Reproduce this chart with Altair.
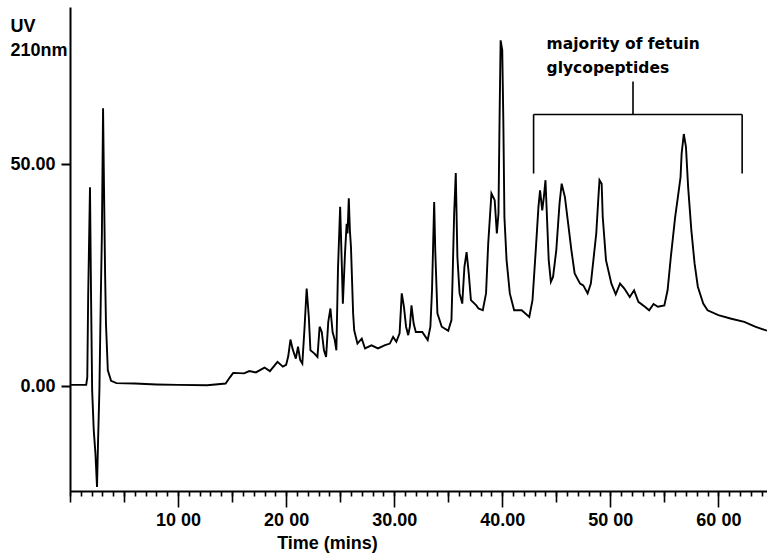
import altair as alt
import pandas as pd

# Chromatogram trace: retention time (min) and UV 210 nm response
time_min = [0.1, 1.5, 1.6, 1.68, 1.85, 1.95, 2.05, 2.2, 2.35, 2.5, 2.6, 2.72, 2.85, 2.95, 3.06,
            3.15, 3.25, 3.33, 3.5, 3.8, 4.3, 6.0, 8.0, 10.0, 12.7, 14.4, 14.8, 15.1, 16.1, 16.6,
            17.2, 18.0, 18.5, 19.2, 19.7, 20.0, 20.2, 20.4, 20.6, 20.9, 21.1, 21.3, 21.5, 21.7,
            21.9, 22.1, 22.25, 22.6, 22.9, 23.1, 23.3, 23.5, 23.7, 23.9, 24.1, 24.3, 24.5, 24.65,
            24.8, 25.0, 25.15, 25.25, 25.45, 25.6, 25.68, 25.8, 25.9, 26.0, 26.2, 26.3, 26.6,
            27.0, 27.3, 27.9, 28.5, 29.1, 29.6, 29.9, 30.2, 30.5, 30.7, 30.9, 31.1, 31.3, 31.45,
            31.6, 31.8, 32.0, 32.6, 33.1, 33.35, 33.5, 33.6, 33.7, 33.8, 34.0, 34.4, 35.0, 35.3,
            35.4, 35.55, 35.7, 35.85, 36.05, 36.3, 36.5, 36.7, 36.9, 37.1, 37.6, 37.8, 38.2,
            38.5, 38.7, 39.0, 39.3, 39.5, 39.65, 39.75, 39.85, 40.0, 40.1, 40.2, 40.4, 40.7,
            41.1, 41.8, 42.5, 42.8, 43.1, 43.35, 43.5, 43.7, 43.85, 44.0, 44.1, 44.3, 44.5,
            44.7, 45.0, 45.3, 45.5, 45.8, 46.1, 46.4, 46.7, 47.2, 47.5, 47.9, 48.2, 48.7, 48.9,
            49.0, 49.2, 49.3, 49.6, 50.1, 50.5, 50.9, 51.3, 51.8, 52.2, 52.6, 53.2, 53.6, 54.0,
            54.4, 55.0, 55.3, 55.6, 56.0, 56.3, 56.5, 56.6, 56.8, 57.0, 57.2, 57.5, 57.8, 58.1,
            58.6, 59.0, 60.0, 61.2, 62.4, 63.4, 64.5]
uv = [0.3, 0.3, 2.0, 20.0, 44.8, 20.0, -1.0, -10.0, -15.0, -22.7, -12.0, -1.0, 20.0, 34.0, 62.6,
      44.0, 25.0, 14.0, 3.6, 1.2, 0.7, 0.6, 0.4, 0.3, 0.2, 0.6, 2.0, 3.0, 2.9, 3.4,
      3.1, 4.2, 3.4, 5.5, 4.4, 4.8, 6.8, 10.5, 8.4, 6.2, 8.9, 5.9, 5.1, 13.0,
      22.0, 15.6, 8.1, 7.4, 6.6, 13.4, 12.2, 8.1, 6.6, 14.5, 17.5, 12.2, 10.4, 8.1,
      26.5, 40.4, 27.6, 18.6, 30.0, 36.6, 34.4, 42.3, 35.1, 31.4, 16.4, 12.6, 9.6,
      10.7, 8.5, 9.2, 8.5, 9.2, 9.6, 11.1, 10.0, 11.9, 20.9, 17.9, 13.4, 11.5, 13.4,
      18.2, 14.1, 12.2, 12.2, 10.4, 13.4, 21.6, 31.4, 41.5, 30.6, 16.4, 13.4, 12.5, 14.9,
      23.9, 38.9, 48.0, 29.1, 20.9, 18.6, 26.9, 30.2, 25.4, 19.4, 18.2, 17.5, 17.1,
      20.9, 32.1, 43.4, 41.9, 34.4, 38.9, 59.9, 77.9, 75.7, 59.9, 38.1, 28.4, 20.9,
      17.1, 17.1, 15.6, 19.4, 30.6, 40.4, 44.1, 39.6, 42.6, 46.4, 40.4, 28.4, 23.5,
      24.6, 30.6, 41.1, 45.6, 42.6, 36.6, 30.6, 25.4, 23.1, 22.7, 20.9, 23.1, 34.4, 42.6,
      46.4, 45.6, 38.1, 28.4, 23.1, 20.7, 23.1, 22.0, 20.1, 21.6, 19.0, 17.9, 17.1, 18.5,
      17.9, 18.2, 21.6, 29.1, 38.1, 43.4, 47.1, 52.4, 56.8, 53.9, 44.9, 35.1, 27.6, 22.4,
      18.6, 17.1, 16.0, 15.2, 14.5, 13.4, 12.5]

# Axis tick labels as printed
x_tick_values = [10, 20, 30, 40, 50, 60]
x_tick_labels = ["10 00", "20 00", "30.00", "40.00", "50 00", "60 00"]
x_mid_ticks = [5, 15, 25, 35, 45, 55, 0]
x_minor_ticks = list(range(0, 65))
y_tick_values = [0, 50]
y_tick_labels = ["0.00", "50.00"]

# Annotation
note_lines = ["majority of fetuin", "glycopeptides"]
note_time = [44.1, 44.1]
note_uv = [75.9, 70.5]

# Bracket segments (time from/to, uv from/to)
br_t1 = [42.9, 42.9, 62.2, 52.1]
br_t2 = [62.2, 42.9, 62.2, 52.1]
br_v1 = [61.2, 47.9, 47.9, 61.2]
br_v2 = [61.2, 61.2, 61.2, 68.6]

X_DOMAIN = [0, 64.5]
Y_DOMAIN = [-23.6, 85.4]

trace = pd.DataFrame({"t": time_min, "uv": uv})
notes = pd.DataFrame({"t": note_time, "uv": note_uv, "txt": note_lines})
bracket = pd.DataFrame({"t1": br_t1, "t2": br_t2, "v1": br_v1, "v2": br_v2})

def label_expr(vals, labs):
    parts = " : ".join(f"datum.value === {v} ? '{l}'" for v, l in zip(vals, labs))
    return parts + " : ''"

FONT = "Liberation Sans"
xscale = alt.Scale(domain=X_DOMAIN, nice=False, zero=False)
yscale = alt.Scale(domain=Y_DOMAIN, nice=False, zero=False)

x_axis = alt.Axis(
    orient="bottom",
    values=x_tick_values,
    labelExpr=label_expr(x_tick_values, x_tick_labels),
    labelOverlap=False,
    labelFlush=False,
    labelFont=FONT, labelFontSize=18, labelFontWeight="bold", labelColor="black",
    labelPadding=4,
    tickSize=16, tickWidth=1.6, tickColor="black",
    domainColor="black", domainWidth=2,
    grid=False,
    title="Time (mins)",
    titleFont=FONT, titleFontSize=18, titleFontWeight="bold", titleColor="black",
    titleX=257, titleY=57, titleAlign="center", titleBaseline="alphabetic",
    titleAnchor="start",
)

def tick_axis(vals, size):
    return alt.Axis(orient="bottom", values=vals, labels=False, domain=False, grid=False,
                    title=None, tickSize=size, tickWidth=1.6, tickColor="black")

y_axis = alt.Axis(
    values=y_tick_values,
    labelExpr=label_expr(y_tick_values, y_tick_labels),
    labelFont=FONT, labelFontSize=18, labelFontWeight="bold", labelColor="black",
    labelPadding=6,
    tickSize=9, tickWidth=2, tickColor="black",
    domainColor="black", domainWidth=2,
    grid=False,
    title=["UV", "210nm"],
    titleFont=FONT, titleFontSize=18, titleFontWeight="bold", titleColor="black",
    titleAngle=0, titleX=-60, titleY=24, titleAlign="left", titleBaseline="alphabetic",
    titleLineHeight=24, titleAnchor="start",
)

line = alt.Chart(trace).mark_line(color="black", strokeWidth=1.9, clip=True).encode(
    x=alt.X("t:Q", scale=xscale, axis=x_axis),
    y=alt.Y("uv:Q", scale=yscale, axis=y_axis),
)

minor = alt.Chart(trace).mark_point(opacity=0).encode(
    x=alt.X("t:Q", scale=xscale, axis=tick_axis(x_minor_ticks, 5)),
)
mid = alt.Chart(trace).mark_point(opacity=0).encode(
    x=alt.X("t:Q", scale=xscale, axis=tick_axis(x_mid_ticks, 11)),
)

rules = alt.Chart(bracket).mark_rule(color="black", strokeWidth=1.6).encode(
    x=alt.X("t1:Q", scale=xscale, axis=None), x2="t2",
    y=alt.Y("v1:Q", scale=yscale), y2="v2",
)

text = alt.Chart(notes).mark_text(
    align="left", baseline="alphabetic", font="DejaVu Sans", fontSize=15.5,
    fontWeight="bold", color="black",
).encode(x=alt.X("t:Q", scale=xscale, axis=None), y=alt.Y("uv:Q", scale=yscale), text="txt:N")

chart = alt.layer(line, minor, mid, rules, text).resolve_axis(x="independent").properties(
    width=697, height=484,
    autosize={"type": "none"},
    padding={"left": 70, "top": 7, "right": 0, "bottom": 64},
    background="white",
).configure_view(stroke=None)

chart.save("out.html", embed_options={"renderer": "svg", "actions": False})
